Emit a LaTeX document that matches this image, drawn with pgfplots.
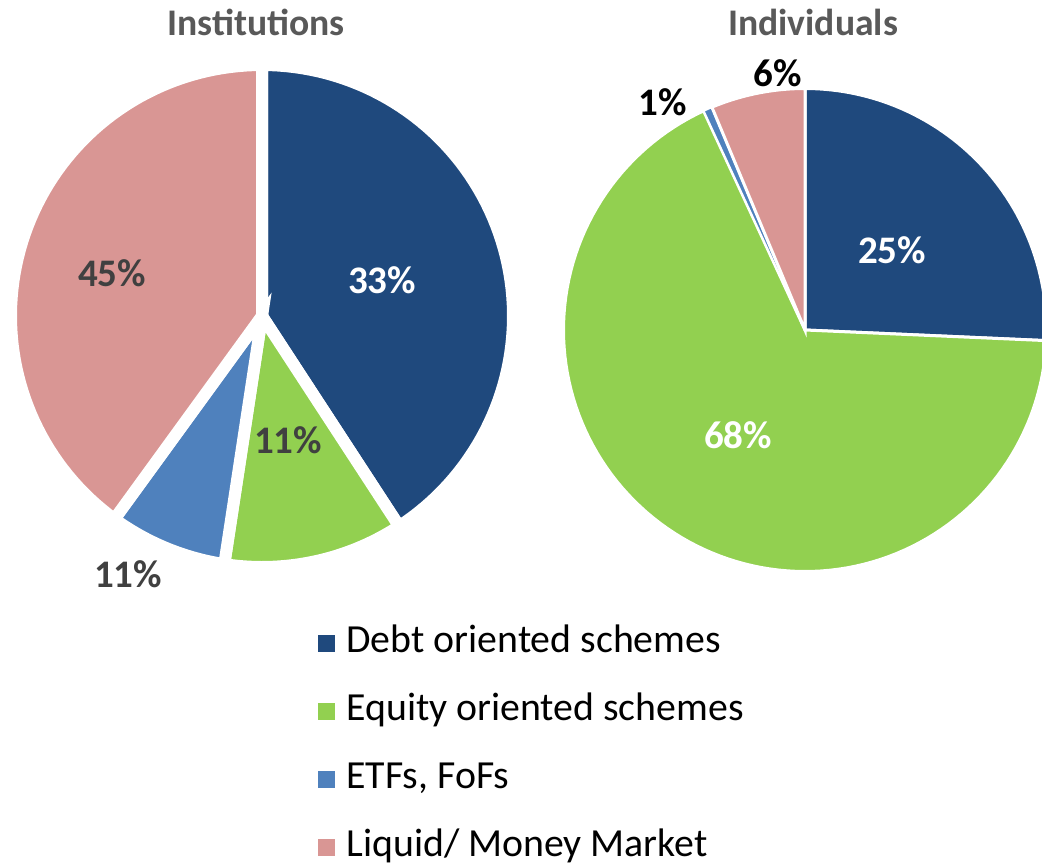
\documentclass[border=0pt]{standalone}
\usepackage{pgfplots}
\pgfplotsset{compat=1.18}
\usepackage{fontspec}
\setmainfont{Carlito}
\definecolor{cdebt}{HTML}{1F497D}
\definecolor{cequity}{HTML}{92D050}
\definecolor{cetf}{HTML}{4F81BD}
\definecolor{cliquid}{HTML}{D99694}
\definecolor{ctitle}{HTML}{595959}
\definecolor{clab}{HTML}{404040}
% shares (percent): Debt, Equity, ETFs/FoFs, Liquid
\def\InsD{40.8}\def\InsE{11.6}\def\InsT{7.6}\def\InsL{40.0}
\def\IndD{25.7}\def\IndE{67.4}\def\IndT{0.6}\def\IndL{6.3}
\pgfmathsetmacro{\IaA}{90-3.6*\InsD}
\pgfmathsetmacro{\IaB}{\IaA-3.6*\InsE}
\pgfmathsetmacro{\IaC}{\IaB-3.6*\InsT}
\pgfmathsetmacro{\IaD}{\IaC-3.6*\InsL}
\pgfmathsetmacro{\JaA}{90-3.6*\IndD}
\pgfmathsetmacro{\JaB}{\JaA-3.6*\IndE}
\pgfmathsetmacro{\JaC}{\JaB-3.6*\IndT}
\pgfmathsetmacro{\JaD}{\JaC-3.6*\IndL}
\begin{document}
\begin{tikzpicture}
\begin{axis}[
  width=521pt, height=432pt, scale only axis,
  xmin=0, xmax=1042, ymin=0, ymax=864,
  hide axis,
  legend style={draw=none, fill=none, font=\fontsize{19.9}{22}\selectfont,
    at={(axis cs:312,244)}, anchor=north west,
    nodes={text height=14pt, text depth=5pt, inner sep=0pt},
    row sep=15pt, column sep=6pt},
  legend cell align=left,
]
% Institutions, centre (262,548)
\addplot[fill=cdebt, draw=white, line width=6pt, domain=\IaA:90, samples=80, forget plot]
  ({262+251*cos(x)}, {548+251*sin(x)}) -- (axis cs:262,548) -- cycle;
\addplot[fill=cequity, draw=white, line width=6pt, domain=\IaB:\IaA, samples=40, forget plot]
  ({262+251*cos(x)}, {548+251*sin(x)}) -- (axis cs:262,548) -- cycle;
\addplot[fill=cetf, draw=white, line width=6pt, domain=\IaC:\IaB, samples=30, forget plot]
  ({262+251*cos(x)}, {548+251*sin(x)}) -- (axis cs:262,548) -- cycle;
\addplot[fill=cliquid, draw=white, line width=6pt, domain=\IaD:\IaC, samples=80, forget plot]
  ({262+251*cos(x)}, {548+251*sin(x)}) -- (axis cs:262,548) -- cycle;
% Individuals, centre (805,534)
\addplot[fill=cdebt, draw=white, line width=1.5pt, domain=\JaA:90, samples=60, forget plot]
  ({805+241.5*cos(x)}, {534+241.5*sin(x)}) -- (axis cs:805,534) -- cycle;
\addplot[fill=cequity, draw=white, line width=1.5pt, domain=\JaB:\JaA, samples=120, forget plot]
  ({805+241.5*cos(x)}, {534+241.5*sin(x)}) -- (axis cs:805,534) -- cycle;
\addplot[fill=cetf, draw=white, line width=1pt, domain=\JaC:\JaB, samples=10, forget plot]
  ({805+241.5*cos(x)}, {534+241.5*sin(x)}) -- (axis cs:805,534) -- cycle;
\addplot[fill=cliquid, draw=white, line width=1.5pt, domain=\JaD:\JaC, samples=30, forget plot]
  ({805+241.5*cos(x)}, {534+241.5*sin(x)}) -- (axis cs:805,534) -- cycle;
% titles
\node[font=\bfseries\fontsize{18.8}{20}\selectfont, text=ctitle] at (axis cs:256,842) {Institutions};
\node[font=\bfseries\fontsize{18.8}{20}\selectfont, text=ctitle] at (axis cs:813,842) {Individuals};
% data labels
\node[font=\bfseries\fontsize{19.5}{21}\selectfont, text=white] at (axis cs:382,584) {33\%};
\node[font=\bfseries\fontsize{19.5}{21}\selectfont, text=clab] at (axis cs:288,424) {11\%};
\node[font=\bfseries\fontsize{19.5}{21}\selectfont, text=clab] at (axis cs:128,290) {11\%};
\node[font=\bfseries\fontsize{19.5}{21}\selectfont, text=clab] at (axis cs:112,591) {45\%};
\node[font=\bfseries\fontsize{19.5}{21}\selectfont, text=white] at (axis cs:892,614) {25\%};
\node[font=\bfseries\fontsize{19.5}{21}\selectfont, text=white] at (axis cs:738,429) {68\%};
\node[font=\bfseries\fontsize{19.5}{21}\selectfont, text=black] at (axis cs:663,762) {1\%};
\node[font=\bfseries\fontsize{19.5}{21}\selectfont, text=black] at (axis cs:778,791) {6\%};
% legend
\addlegendimage{legend image code/.code={\fill[cdebt] (0pt,-3.8pt) rectangle (7.6pt,3.8pt);}}
\addlegendentry{Debt oriented schemes}
\addlegendimage{legend image code/.code={\fill[cequity] (0pt,-3.8pt) rectangle (7.6pt,3.8pt);}}
\addlegendentry{Equity oriented schemes}
\addlegendimage{legend image code/.code={\fill[cetf] (0pt,-3.8pt) rectangle (7.6pt,3.8pt);}}
\addlegendentry{ETFs, FoFs}
\addlegendimage{legend image code/.code={\fill[cliquid] (0pt,-3.8pt) rectangle (7.6pt,3.8pt);}}
\addlegendentry{Liquid/ Money Market}
\end{axis}
\pgfresetboundingbox
\path (current axis.south west) rectangle (current axis.north east);
\end{tikzpicture}
\end{document}
